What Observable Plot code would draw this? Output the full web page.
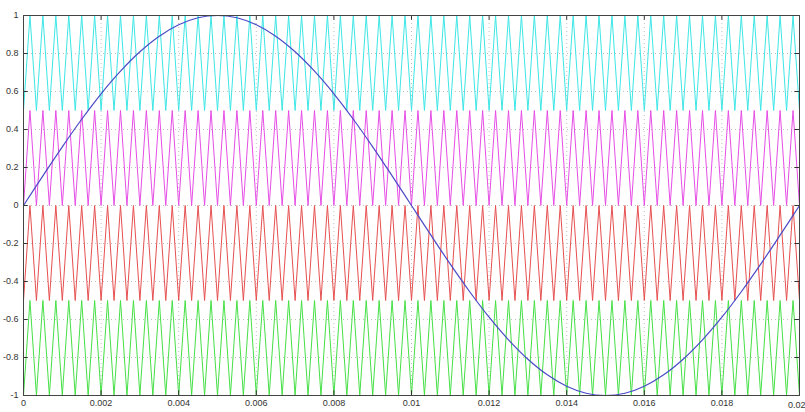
<!DOCTYPE html>
<html>
<head>
<meta charset="utf-8">
<script src="https://cdn.jsdelivr.net/npm/d3@7"></script>
<script src="https://cdn.jsdelivr.net/npm/@observablehq/plot@0.6"></script>
<style>
  html, body { margin: 0; padding: 0; background: #fff; overflow: hidden; }
  #chart svg { display: block; }
</style>
</head>
<body>
<div id="chart"></div>
<script>
// Reference sine (50 Hz)
const refT = [0,0.0005,0.001,0.0015,0.002,0.0025,0.003,0.0035,0.004,0.0045,0.005,0.0055,0.006,0.0065,0.007,0.0075,0.008,0.0085,0.009,0.0095,0.01,0.0105,0.011,0.0115,0.012,0.0125,0.013,0.0135,0.014,0.0145,0.015,0.0155,0.016,0.0165,0.017,0.0175,0.018,0.0185,0.019,0.0195,0.02];
const refV = [0,0.156,0.309,0.454,0.588,0.707,0.809,0.891,0.951,0.988,1,0.988,0.951,0.891,0.809,0.707,0.588,0.454,0.309,0.156,0,-0.156,-0.309,-0.454,-0.588,-0.707,-0.809,-0.891,-0.951,-0.988,-1,-0.988,-0.951,-0.891,-0.809,-0.707,-0.588,-0.454,-0.309,-0.156,0];

// Four level-shifted triangular carriers
const bandNames = ["c1", "c2", "c3", "c4"];
const bandLow  = [0.5, 0, -0.5, -1];
const bandHigh = [1, 0.5, 0, -0.5];
const bandColors = ["#3ee6e6", "#e64ee6", "#e65050", "#46e046"];
const carrierPeriods = 60;
const tEnd = 0.02;

// Ticks
const xTicks = [0,0.002,0.004,0.006,0.008,0.01,0.012,0.014,0.016,0.018];
const xTickLabels = ["0","0.002","0.004","0.006","0.008","0.01","0.012","0.014","0.016","0.018"];
const xLastTick = [0.02];
const xLastLabel = ["0.02"];
const yTicks = [-1,-0.8,-0.6,-0.4,-0.2,0,0.2,0.4,0.6,0.8,1];
const yTickLabels = ["-1","-0.8","-0.6","-0.4","-0.2","0","0.2","0.4","0.6","0.8","1"];

// Build carrier vertex table
const carrier = [];
bandNames.forEach((name, b) => {
  for (let i = 0; i <= carrierPeriods * 2; i++) {
    carrier.push({band: name, t: i * tEnd / (carrierPeriods * 2), v: i % 2 === 0 ? bandLow[b] : bandHigh[b]});
  }
});
const ref = refT.map((t, i) => ({t, v: refV[i]}));
const allXTicks = xTicks.concat(xLastTick);

const xLab = new Map(xTicks.map((d, i) => [d, xTickLabels[i]]));
const yLab = new Map(yTicks.map((d, i) => [d, yTickLabels[i]]));

const plot = Plot.plot({
  width: 805,
  height: 412,
  marginLeft: 23,
  marginRight: 6,
  marginTop: 15,
  marginBottom: 17,
  style: {fontFamily: "Liberation Sans, Arial, sans-serif", fontSize: "9px", color: "#333", background: "#fff"},
  x: {domain: [0, tEnd], label: null},
  y: {domain: [-1, 1], label: null},
  color: {domain: bandNames, range: bandColors},
  marks: [
    Plot.gridX(allXTicks, {stroke: "#999", strokeOpacity: 0.6, strokeDasharray: "1,3"}),
    Plot.gridY(yTicks, {stroke: "#999", strokeOpacity: 0.6, strokeDasharray: "1,3"}),
    Plot.line(carrier, {x: "t", y: "v", z: "band", stroke: "band", strokeWidth: 1}),
    Plot.line(ref, {x: "t", y: "v", stroke: "#4a4ac8", strokeWidth: 1.2, curve: "catmull-rom"}),
    Plot.ruleX(allXTicks, {y1: -1, y2: -0.975, stroke: "#333"}),
    Plot.ruleX(allXTicks, {y1: 1, y2: 0.975, stroke: "#333"}),
    Plot.ruleY(yTicks, {x1: 0, x2: 0.00012, stroke: "#333"}),
    Plot.ruleY(yTicks, {x1: tEnd, x2: tEnd - 0.00012, stroke: "#333"}),
    Plot.frame({stroke: "#444"}),
    Plot.axisX(xTicks, {tickSize: 0, tickPadding: 4, tickFormat: d => xLab.get(d), fill: "#333", label: null}),
    Plot.text(xLastTick, {x: d => d, y: -1, text: (d, i) => xLastLabel[i], textAnchor: "end", dx: 6, dy: 10, fill: "#333", fontSize: 9}),
    Plot.axisY(yTicks, {tickSize: 0, tickPadding: 5, tickFormat: d => yLab.get(d), fill: "#333", label: null})
  ]
});
document.getElementById("chart").append(plot);
</script>
</body>
</html>
